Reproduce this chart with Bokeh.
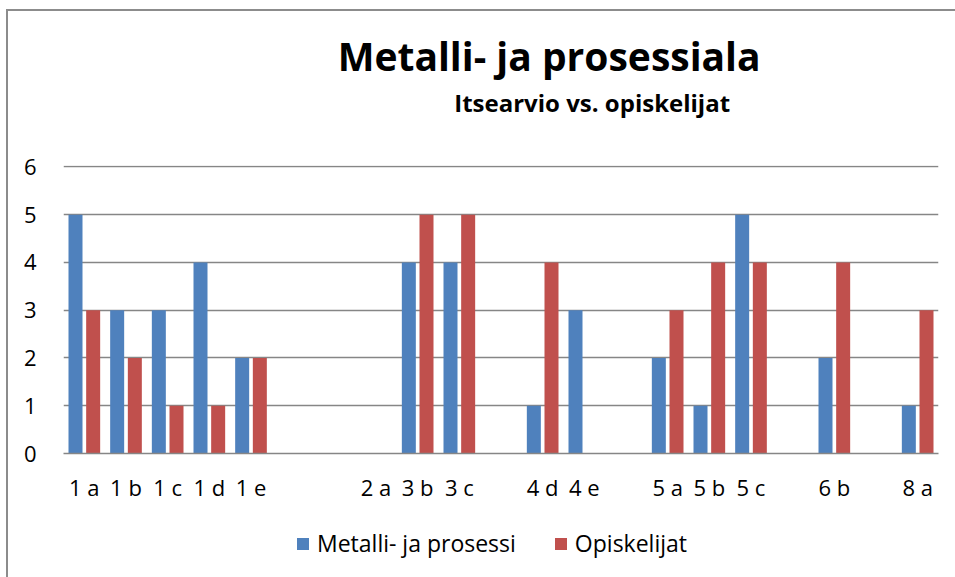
from bokeh.plotting import figure
from bokeh.layouts import column
from bokeh.models import (ColumnDataSource, FixedTicker, Legend, LegendItem, Label, Range1d)
from bokeh.transform import dodge
from bokeh.embed import file_html
from bokeh.resources import INLINE

# ---- data ----
categories = ["1 a", "1 b", "1 c", "1 d", "1 e", "", "", "2 a", "3 b", "3 c", "",
              "4 d", "4 e", "", "5 a", "5 b", "5 c", "", "6 b", "", "8 a"]
metalli = [5, 3, 3, 4, 2, 0, 0, 0, 4, 4, 0, 1, 3, 0, 2, 1, 5, 0, 2, 0, 1]
opiskelijat = [3, 2, 1, 1, 2, 0, 0, 0, 5, 5, 0, 4, 0, 0, 3, 4, 4, 0, 4, 0, 3]
y_ticks = [0, 1, 2, 3, 4, 5, 6]
series_names = ["Metalli- ja prosessi", "Opiskelijat"]
title_text = "Metalli- ja prosessiala"
subtitle_text = "Itsearvio vs. opiskelijat"

BLUE = "#4F81BD"
RED = "#C0504D"
GRID = "#868686"
FONT = "Open Sans"
W = 955


def blank_fig(h, y0=0):
    f = figure(width=W, height=h, output_backend="svg", toolbar_location=None,
               x_axis_location=None, y_axis_location=None,
               x_range=Range1d(0, W), y_range=Range1d(y0, y0 + h),
               min_border=0, min_border_left=0, min_border_right=0,
               min_border_top=0, min_border_bottom=0)
    f.title = None
    f.grid.grid_line_color = None
    f.outline_line_color = None
    f.background_fill_color = None
    f.border_fill_color = None
    return f


idx = list(range(len(categories)))
src = ColumnDataSource(dict(x=idx, m=metalli, o=opiskelijat))

# ---- title area ----
TH = 140
pt = blank_fig(TH)
pt.add_layout(Label(x=530, y=85, text=title_text, text_align="center",
                    text_baseline="alphabetic", text_font=FONT, text_font_style="bold",
                    text_font_size="39px", text_color="black"))
pt.add_layout(Label(x=577, y=38, text=subtitle_text, text_align="center",
                    text_baseline="alphabetic", text_font=FONT, text_font_style="bold",
                    text_font_size="24px", text_color="black"))

# ---- main chart ----
p = figure(width=W, height=370, output_backend="svg", toolbar_location=None,
           x_range=Range1d(-0.5, len(categories) - 0.5), y_range=Range1d(0, 6.03),
           min_border_left=63, min_border_right=17, min_border_top=25, min_border_bottom=57)
p.title = None
p.outline_line_color = None
p.background_fill_color = "white"
p.border_fill_color = None

r1 = p.vbar(x=dodge("x", -0.212, range=p.x_range), top="m", width=0.336, source=src,
            fill_color=BLUE, line_color=None)
r2 = p.vbar(x=dodge("x", 0.212, range=p.x_range), top="o", width=0.336, source=src,
            fill_color=RED, line_color=None)

p.xaxis.ticker = FixedTicker(ticks=[i for i, c in enumerate(categories) if c])
p.xaxis.major_label_overrides = {i: c for i, c in enumerate(categories) if c}
p.xaxis.major_tick_line_color = None
p.xaxis.minor_tick_line_color = None
p.xaxis.axis_line_color = GRID
p.xaxis.axis_line_width = 1.3
p.xaxis.major_label_standoff = 12
p.xaxis.major_label_text_font = FONT
p.xaxis.major_label_text_font_size = "22px"
p.xaxis.major_label_text_color = "black"

p.yaxis.ticker = FixedTicker(ticks=y_ticks)
p.yaxis.major_tick_line_color = None
p.yaxis.minor_tick_line_color = None
p.yaxis.axis_line_color = None
p.yaxis.major_label_standoff = 21
p.yaxis.major_label_text_font = FONT
p.yaxis.major_label_text_font_size = "22px"
p.yaxis.major_label_text_color = "black"

p.xgrid.grid_line_color = None
p.ygrid.ticker = FixedTicker(ticks=y_ticks)
p.ygrid.grid_line_color = GRID
p.ygrid.grid_line_width = 1.3

# ---- legend area (series glyphs kept out of view; only their legend swatches show) ----
LH = 67
pl = blank_fig(LH, y0=100)
g1 = pl.vbar(x="x", top="m", width=0.336, source=src, fill_color=BLUE, line_color=None)
g2 = pl.vbar(x="x", top="o", width=0.336, source=src, fill_color=RED, line_color=None)
legend = Legend(items=[LegendItem(label=series_names[0], renderers=[g1]),
                       LegendItem(label=series_names[1], renderers=[g2])],
                orientation="horizontal", location=(232, 18),
                label_text_font=FONT, label_text_font_size="23px", label_text_color="black",
                glyph_width=15, glyph_height=15, label_standoff=7, spacing=37,
                border_line_color=None, background_fill_alpha=0,
                margin=0, padding=5)
pl.add_layout(legend, "center")

layout = column(pt, p, pl, spacing=0,
                styles={"background": "linear-gradient(#8c8c8c,#8c8c8c) 6px 9px / 2px 100% no-repeat, "
                                      "linear-gradient(#8c8c8c,#8c8c8c) 6px 9px / 100% 2px no-repeat"})

open("out.html", "w").write(file_html(layout, INLINE))
